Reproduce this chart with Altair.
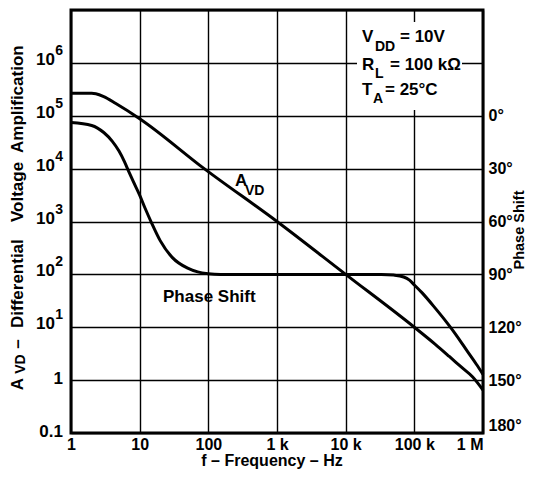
import altair as alt
import pandas as pd

FONT = "Liberation Sans"

# ---- axis ticks / labels ----
freq_ticks = [1, 10, 100, 1000, 10000, 100000, 1000000]
freq_labels = ["1", "10", "100", "1 k", "10 k", "100 k", "1 M"]
gain_ticks = [0.1, 1, 10, 100, 1000, 10000, 100000, 1000000, 10000000]
gain_label_vals = [0.1, 1, 10, 100, 1000, 10000, 100000, 1000000]
gain_bases = ["0.1", "1", "10", "10", "10", "10", "10", "10"]
gain_exps = ["", "", "1", "2", "3", "4", "5", "6"]
phase_ticks = [0, 30, 60, 90, 120, 150, 180]

# ---- curves ----
avd_f = [1, 2, 2.3, 3, 4.5, 10, 87, 1000, 10000, 100000, 200000, 323000, 500000, 708000, 1000000]
avd_v = [2.65e5, 2.65e5, 2.6e5, 2.3e5, 1.7e5, 8.8e4, 1e4, 1e3, 100, 10, 4.8, 2.8, 1.7, 1.15, 0.65]

ph_f = [1, 2, 3, 4, 5, 6, 7, 8, 10, 12, 15, 20, 30, 50, 70, 100, 150, 1000, 10000,
        33000, 50000, 70000, 85000, 100000, 130000, 200000, 300000, 400000, 600000, 800000, 1000000]
ph_d = [3.8, 5.5, 9.5, 14.5, 20, 26, 32, 37, 45, 52.5, 61, 71, 80.5, 86.5, 88.6, 89.6, 90, 90, 90,
        90, 90.4, 91.5, 93.3, 96, 100.5, 109, 117.5, 124, 134, 141, 146.7]

# ---- annotation texts ----
cond_main = ["V", "R", "T"]
cond_sub = ["DD", "L", "A"]
cond_rest = ["= 10V", "= 100 kΩ", "= 25°C"]
curve_label_avd = ["A", "VD"]
curve_label_phase = "Phase Shift"
y_title = ["A", "VD", "–", "Differential", "Voltage", "Amplification"]
x_title = "f – Frequency – Hz"
y2_title = "Phase Shift"

avd_df = pd.DataFrame({"f": avd_f, "v": avd_v})
ph_df = pd.DataFrame({"f": ph_f, "deg": ph_d})
lab_df = pd.DataFrame({"v": gain_label_vals, "base": gain_bases, "exp": gain_exps})

x_scale = alt.Scale(type="log", domain=[1, 1000000])
y_scale = alt.Scale(type="log", domain=[0.1, 10000000])

label_expr = " : ".join(
    f"datum.value == {v} ? '{l}'" for v, l in zip(freq_ticks, freq_labels)
) + " : ''"

avd = alt.Chart(avd_df).mark_line(color="black", strokeWidth=3, interpolate="monotone").encode(
    x=alt.X("f:Q", scale=x_scale, axis=alt.Axis(
        values=freq_ticks, labelExpr=label_expr, grid=True, ticks=False, domain=False,
        labelFlush=False,
        labelAlign={"condition": {"test": "datum.value >= 1000000", "value": "right"}, "value": "center"},
        labelPadding=3, title=None)),
    y=alt.Y("v:Q", scale=y_scale, axis=alt.Axis(
        values=gain_ticks, labels=False, ticks=False, domain=False, grid=True, title=None)),
)

phase = alt.Chart(ph_df).mark_line(color="black", strokeWidth=3, interpolate="monotone").encode(
    x=alt.X("f:Q", scale=x_scale),
    y=alt.Y("deg:Q", scale=alt.Scale(domain=[-60, 180], reverse=True), axis=alt.Axis(
        orient="right", values=phase_ticks, labelExpr="datum.value + '°'", grid=False,
        ticks=False, domain=False, labelPadding=5, labelFlush=True, title=None)),
)

lab_base = alt.Chart(lab_df)
plain_labels = lab_base.transform_filter("datum.exp == ''").mark_text(
    align="right", baseline="middle", font=FONT, fontWeight="bold", fontSize=17, dy=-1
).encode(x=alt.value(-8), y=alt.Y("v:Q", scale=y_scale, axis=None), text="base:N")
pow_base = lab_base.transform_filter("datum.exp != ''").mark_text(
    align="right", baseline="middle", font=FONT, fontWeight="bold", fontSize=17, dy=-3
).encode(x=alt.value(-16), y=alt.Y("v:Q", scale=y_scale, axis=None), text="base:N")
pow_exp = lab_base.transform_filter("datum.exp != ''").mark_text(
    align="right", baseline="middle", font=FONT, fontWeight="bold", fontSize=14, dy=-12
).encode(x=alt.value(-8), y=alt.Y("v:Q", scale=y_scale, axis=None), text="exp:N")

one = pd.DataFrame({"k": [0]})


def txt(s, x, y, size=17, align="left", angle=0, baseline="middle"):
    kw = dict(align=align, baseline=baseline, font=FONT, fontWeight="bold",
              fontSize=size, color="black", text=s)
    if angle:
        kw["angle"] = angle
    return alt.Chart(one).mark_text(**kw).encode(x=alt.value(x), y=alt.value(y))


white_box = alt.Chart(one).mark_rect(color="white").encode(
    x=alt.value(286), x2=alt.value(391), y=alt.value(12), y2=alt.value(100))

annots = [
    white_box,
    txt(cond_main[0], 291, 27), txt(cond_sub[0], 304, 37, 14), txt(cond_rest[0], 329, 27),
    txt(cond_main[1], 291, 55), txt(cond_sub[1], 304, 64, 14), txt(cond_rest[1], 319, 55),
    txt(cond_main[2], 291, 80), txt(cond_sub[2], 302, 89, 14), txt(cond_rest[2], 314, 80),
    txt(curve_label_avd[0], 164, 171), txt(curve_label_avd[1], 174, 181, 14),
    txt(curve_label_phase, 92, 287),
    txt(y_title[0], -53, 374, 17, "center", 270),
    txt(y_title[1], -50, 354, 14, "center", 270),
    txt(y_title[2], -53, 334, 17, "center", 270),
    txt(y_title[3], -53, 318, 17, "left", 270),
    txt(y_title[4], -53, 212, 17, "left", 270),
    txt(y_title[5], -53, 143, 17, "left", 270),
    txt(y2_title, 448.5, 220, 14.5, "center", 270),
    txt(x_title, 201, 456, 16, "center", 0, "alphabetic"),
]

chart = alt.layer(
    avd, phase, plain_labels, pow_base, pow_exp, *annots
).resolve_scale(y="independent").properties(
    width=412, height=423,
    autosize=alt.AutoSizeParams(type="none"),
    padding={"left": 63, "top": 2, "right": 44, "bottom": 37},
).configure_view(
    stroke="black", strokeWidth=3
).configure_axis(
    gridColor="black", gridWidth=1.4, gridOpacity=1,
    labelFont=FONT, labelFontWeight="bold", labelFontSize=16, labelColor="black",
    titleFont=FONT, titleFontWeight="bold", titleColor="black",
)

chart.save("out.html", embed_options={"renderer": "svg", "actions": False})
